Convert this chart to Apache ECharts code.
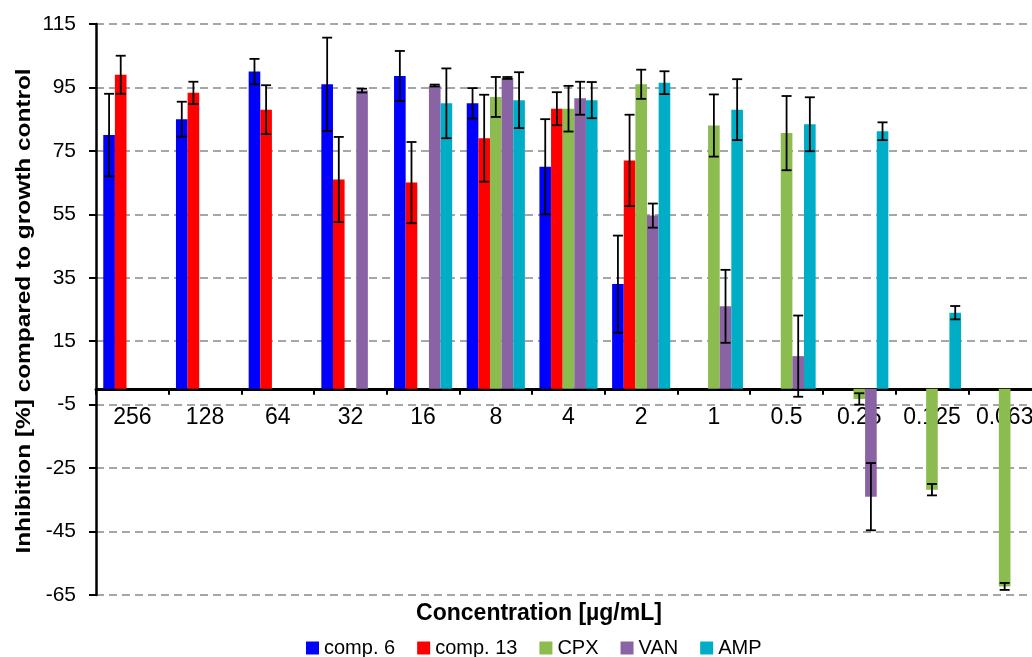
<!DOCTYPE html>
<html>
<head>
<meta charset="utf-8">
<script src="https://cdn.jsdelivr.net/npm/echarts@6/dist/echarts.min.js"></script>
<style>
  html, body { margin: 0; padding: 0; background: #fff; }
  #ChartDom { width: 1032px; height: 657px; }
</style>
</head>
<body>
<div id="ChartDom"></div>
<script>
// concentrations in µg/mL
const categories = ["256", "128", "64", "32", "16", "8", "4", "2", "1", "0.5", "0.25", "0.125", "0.063"]
const seriesNames = ["comp. 6", "comp. 13", "CPX", "VAN", "AMP"]
const colors = ["#0000ff", "#ff0000", "#8cbb4f", "#8a63a5", "#00adc6"]

const comp6 = [80, 85, 100, 96, 98.6, 90, 70, 33, null, null, null, null, null]
const comp6Err = [13, 5.5, 4, 14.7, 7.9, 4.8, 15, 15.3, null, null, null, null, null]
const comp13 = [99, 93.3, 88, 66, 65, 79, 88.3, 72, null, null, null, null, null]
const comp13Err = [6, 3.5, 7.7, 13.4, 12.8, 13.7, 5.2, 14.4, null, null, null, null, null]
const cpx = [null, null, null, null, null, 92, 88.3, 96, 83, 80.6, -3.2, -31.8, -62.3]
const cpxErr = [null, null, null, null, null, 6.3, 7.2, 4.6, 9.8, 11.7, 1.8, 1.8, 1.1]
const van = [null, null, null, 94, 95.6, 98, 91.6, 54.6, 26, 10.3, -34, null, null]
const vanErr = [null, null, null, 0.6, 0.3, 0.3, 5.2, 3.8, 11.5, 12.8, 10.6, null, null]
const amp = [null, null, null, null, 90, 91, 91, 96.5, 88, 83.4, 81.2, 24, null]
const ampErr = [null, null, null, null, 11, 8.8, 5.7, 3.6, 9.6, 8.5, 2.8, 2.1, null]

// y axis shows -65 ... 115 in steps of 20
const yMin = -65
const yMax = 115
const yStep = 20

const values = [comp6, comp13, cpx, van, amp]
const errors = [comp6Err, comp13Err, cpxErr, vanErr, ampErr]

const font = "'Liberation Sans', Arial, sans-serif"
const gridTop = 24
const gridHeight = 571
// the category axis sits on the zero line
const zeroOffset = -gridHeight * (0 - yMin) / (yMax - yMin)

const chart = echarts.init(document.getElementById("ChartDom"))

// error bar drawn at the centre of bar slot `slot` (0..4) of each category
function errorBar(slot) {
  return function (params, api) {
    const cat = api.value(0)
    const lo = api.value(1)
    const hi = api.value(2)
    const band = api.size([1, 0])[0]
    const barW = band * 0.8 / 5
    const x = api.coord([cat, 0])[0] + (slot - 2) * barW
    const yHi = api.coord([cat, hi])[1]
    const yLo = api.coord([cat, lo])[1]
    const cap = 5
    const style = { stroke: "#000", lineWidth: 1.8 }
    return {
      type: "group",
      children: [
        { type: "line", shape: { x1: x, y1: yHi, x2: x, y2: yLo }, style },
        { type: "line", shape: { x1: x - cap, y1: yHi, x2: x + cap, y2: yHi }, style },
        { type: "line", shape: { x1: x - cap, y1: yLo, x2: x + cap, y2: yLo }, style },
      ],
    }
  }
}

const barSeries = seriesNames.map((name, i) => ({
  name,
  type: "bar",
  yAxisIndex: 0,
  barGap: "0%",
  barCategoryGap: "20%",
  itemStyle: { color: colors[i] },
  data: values[i].map(v => (v == null ? "-" : v)),
  z: 2,
}))

const errSeries = seriesNames.map((name, i) => ({
  type: "custom",
  yAxisIndex: 0,
  renderItem: errorBar(i),
  data: values[i]
    .map((v, k) => (v == null ? null : [k, v - errors[i][k], v + errors[i][k]]))
    .filter(d => d),
  z: 5,
  silent: true,
}))

chart.setOption({
  animation: false,
  textStyle: { fontFamily: font },
  grid: { left: 96, top: gridTop, width: 945, height: gridHeight, outerBoundsMode: "none", containLabel: false },
  legend: {
    data: seriesNames,
    left: 306,
    top: 638,
    padding: 0,
    icon: "rect",
    itemWidth: 13,
    itemHeight: 13,
    itemGap: 22,
    textStyle: { fontFamily: font, fontSize: 20, color: "#000", padding: [5, 0, 0, 0] },
  },
  xAxis: {
    type: "category",
    data: categories,
    offset: zeroOffset,
    axisLine: { onZero: false, lineStyle: { color: "#000", width: 3 } },
    axisTick: { show: true, length: 6, lineStyle: { color: "#000", width: 2 } },
    axisLabel: { color: "#000", fontSize: 23, margin: 17, fontFamily: font, interval: 0, hideOverlap: false },
    splitLine: { show: false },
  },
  yAxis: [
    {
      // value axis used by the bars
      type: "value",
      position: "left",
      min: yMin,
      max: yMax,
      axisLine: { show: true, lineStyle: { color: "#000", width: 2.5 } },
      axisTick: { show: false },
      axisLabel: { show: false },
      splitLine: { show: false },
    },
    {
      // same range shifted to start at 0, carries the ticks, labels and grid lines
      type: "value",
      position: "left",
      min: 0,
      max: yMax - yMin,
      interval: yStep,
      axisLine: { show: false },
      axisTick: { show: true, length: 7, lineStyle: { color: "#000", width: 2 } },
      axisLabel: {
        color: "#000", fontSize: 21, margin: 20, fontFamily: font,
        formatter: v => String(v + yMin),
      },
      splitLine: { show: true, lineStyle: { color: "#898989", width: 1.5, type: [8, 5] } },
    },
  ],
  graphic: [
    {
      type: "text",
      x: 24,
      y: 311,
      rotation: Math.PI / 2,
      scaleX: 1.22,
      style: {
        text: "Inhibition [%] compared to growth control",
        font: "bold 20px " + font,
        fill: "#000",
        align: "center",
        verticalAlign: "middle",
      },
    },
    {
      type: "text",
      x: 539,
      y: 614,
      style: {
        text: "Concentration [µg/mL]",
        font: "bold 23px " + font,
        fill: "#000",
        align: "center",
        verticalAlign: "middle",
      },
    },
  ],
  series: [...barSeries, ...errSeries],
})
</script>
</body>
</html>
